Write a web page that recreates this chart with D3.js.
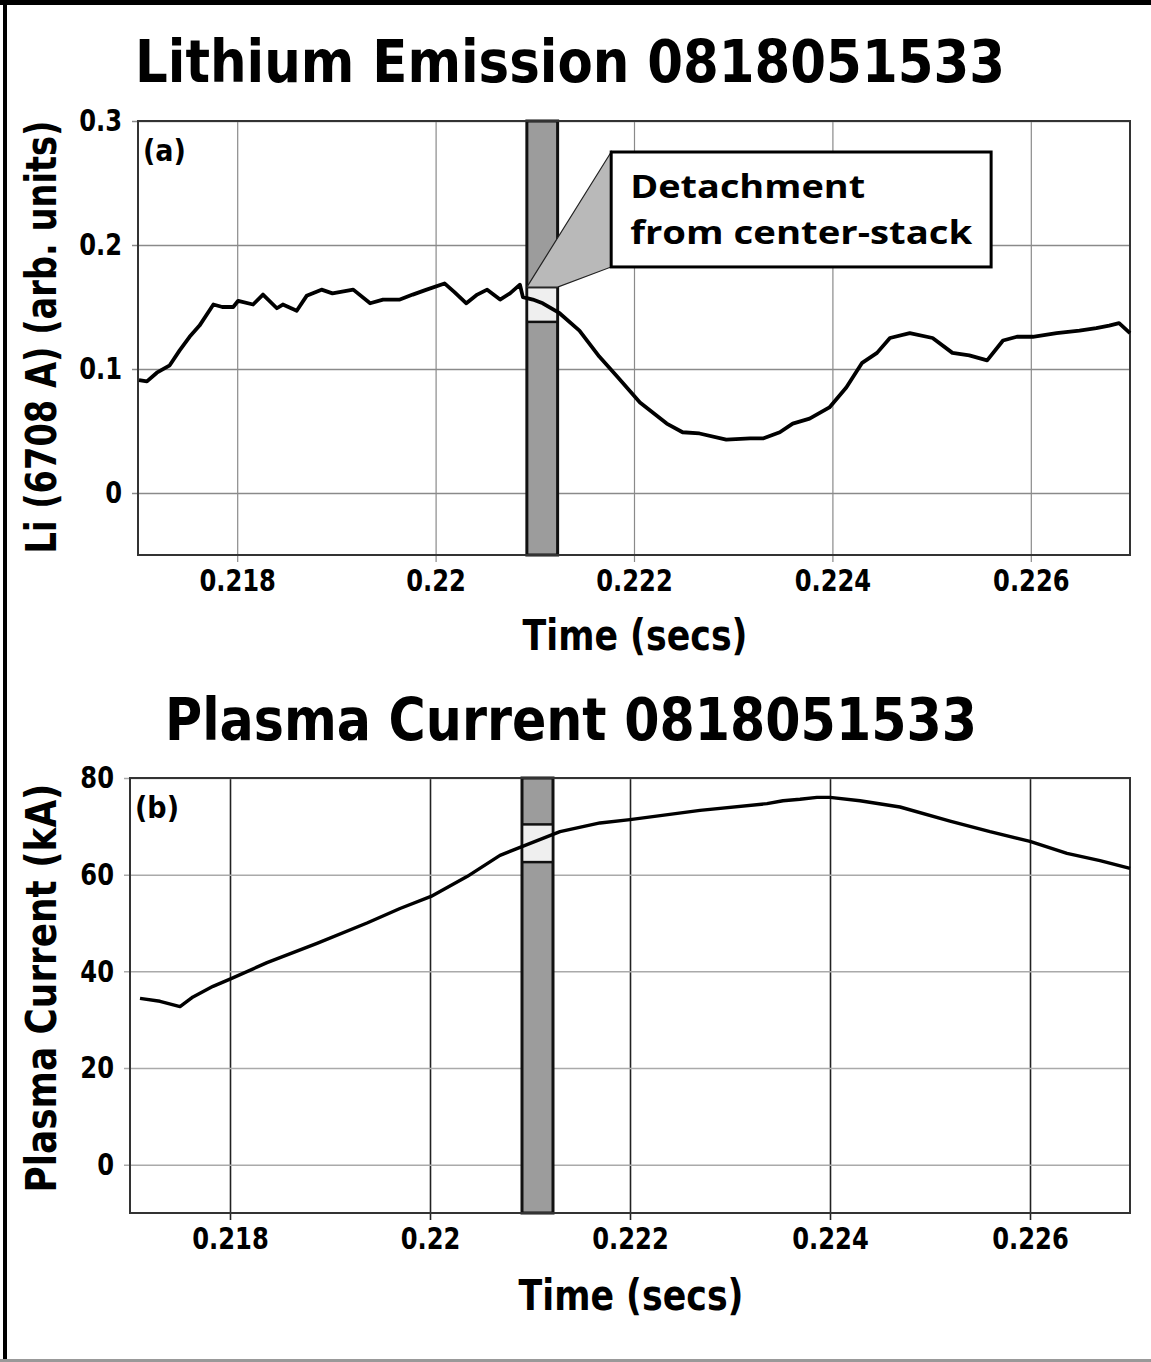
<!DOCTYPE html>
<html>
<head>
<meta charset="utf-8">
<script src="https://cdn.jsdelivr.net/npm/d3@7"></script>
<style>
  body { margin: 0; background: #fff; }
  text { font-family: "DejaVu Sans", sans-serif; font-weight: bold; fill: #000; }
</style>
</head>
<body>
<div id="graph"></div>
<script>
const width = 1151;
const height = 1362;

// (a) Li 6708 A emission
const liTime = [0.21701, 0.21709, 0.21719, 0.21732, 0.21742, 0.21752, 0.21762, 0.21776, 0.21785, 0.21796,
  0.21801, 0.21816, 0.21826, 0.2184, 0.21846, 0.2186, 0.2187, 0.21885, 0.21896, 0.21917,
  0.21934, 0.21947, 0.21964, 0.21977, 0.21991, 0.22009, 0.22019, 0.22031, 0.22042, 0.22052,
  0.22065, 0.22075, 0.22085, 0.22088, 0.22098, 0.22108, 0.22125, 0.22145, 0.22165, 0.22183,
  0.22206, 0.22233, 0.22249, 0.22266, 0.22293, 0.22317, 0.2233, 0.22347, 0.2236, 0.22377,
  0.22397, 0.22414, 0.2243, 0.22445, 0.22458, 0.22478, 0.22501, 0.22521, 0.22538, 0.22556,
  0.22572, 0.22586, 0.22602, 0.22626, 0.22649, 0.22666, 0.22679, 0.22689, 0.227];
const liValue = [0.091, 0.090, 0.097, 0.103, 0.115, 0.126, 0.135, 0.152, 0.150, 0.150,
  0.155, 0.152, 0.160, 0.149, 0.152, 0.147, 0.159, 0.164, 0.161, 0.164,
  0.153, 0.156, 0.156, 0.160, 0.164, 0.169, 0.162, 0.153, 0.160, 0.164,
  0.156, 0.161, 0.168, 0.158, 0.156, 0.153, 0.145, 0.131, 0.110, 0.094,
  0.073, 0.056, 0.049, 0.048, 0.043, 0.044, 0.044, 0.049, 0.056, 0.060,
  0.069, 0.085, 0.105, 0.113, 0.125, 0.129, 0.125, 0.113, 0.111, 0.107,
  0.123, 0.126, 0.126, 0.129, 0.131, 0.133, 0.135, 0.137, 0.129];

// (b) plasma current in kA
const ipTime = [0.2171, 0.2173, 0.2175, 0.21763, 0.21783, 0.218, 0.21837, 0.21887, 0.21937, 0.2197,
  0.22001, 0.22037, 0.2207, 0.22097, 0.2213, 0.2217, 0.222, 0.2227, 0.22337, 0.22353,
  0.2237, 0.22387, 0.224, 0.2243, 0.2247, 0.2252, 0.2256, 0.226, 0.22637, 0.2267, 0.227];
const ipValue = [34.4, 33.8, 32.7, 34.7, 36.9, 38.4, 41.8, 45.8, 50.0, 53.0,
  55.5, 59.6, 64.0, 66.2, 68.9, 70.7, 71.4, 73.3, 74.7, 75.3,
  75.6, 76.0, 76.0, 75.3, 74.0, 71.1, 68.9, 66.9, 64.4, 62.9, 61.3];

const timeTicks = [0.218, 0.22, 0.222, 0.224, 0.226];
const timeTickLabels = ["0.218", "0.22", "0.222", "0.224", "0.226"];
const liTicks = [0, 0.1, 0.2, 0.3];
const liTickLabels = ["0", "0.1", "0.2", "0.3"];
const ipTicks = [0, 20, 40, 60, 80];
const ipTickLabels = ["0", "20", "40", "60", "80"];

// detachment window and its highlighted band
const windowTime = [0.22092, 0.22123];
const liBand = [0.138, 0.166];
const ipBand = [62.6, 70.4];

// callout box, in data units of panel (a)
const calloutTime = [0.22177, 0.2256];
const calloutValue = [0.1823, 0.275];
const calloutLines = ["Detachment", "from center-stack"];

const svg = d3.select("#graph")
  .append("svg")
  .attr("width", width)
  .attr("height", height)
  .style("background", "#fff");

// page frame
svg.append("rect").attr("x", 0).attr("y", 0).attr("width", width).attr("height", 5).attr("fill", "#000");
svg.append("rect").attr("x", 3).attr("y", 0).attr("width", 4).attr("height", height).attr("fill", "#000");
svg.append("rect").attr("x", 0).attr("y", height - 3).attr("width", width).attr("height", 3).attr("fill", "#999");

// squeeze a text horizontally, the source uses a narrow bold face
function narrow(sel, k) {
  sel.each(function () {
    const len = this.getComputedTextLength();
    d3.select(this)
      .attr("textLength", len * k)
      .attr("lengthAdjust", "spacingAndGlyphs");
  });
}

function drawPanel(p) {
  const x = d3.scaleLinear().domain([0.217, 0.227]).range([p.left, p.right]);
  const y = d3.scaleLinear().domain(p.yDomain).range([p.bottom, p.top]);
  const h = p.bottom - p.top;
  const w = p.right - p.left;
  const g = svg.append("g");

  // grid
  g.append("g")
    .attr("transform", `translate(0, ${p.bottom})`)
    .call(d3.axisBottom(x).tickValues(timeTicks).tickSize(h + 7).tickFormat(""))
    .call(s => s.select(".domain").remove())
    .selectAll("line")
    .attr("transform", `translate(0, ${-h})`)
    .attr("stroke", p.vGrid)
    .attr("stroke-width", p.vGridWidth);
  g.append("g")
    .attr("transform", `translate(${p.left}, 0)`)
    .call(d3.axisLeft(y).tickValues(p.yTicks).tickSize(-(w + 6)).tickFormat(""))
    .call(s => s.select(".domain").remove())
    .selectAll("line")
    .attr("transform", "translate(-6, 0)")
    .attr("stroke", p.hGrid)
    .attr("stroke-width", 1.5);

  // tick labels
  const xa = g.append("g")
    .attr("transform", `translate(0, ${p.bottom})`)
    .call(d3.axisBottom(x).tickValues(timeTicks).tickSize(0).tickPadding(14)
      .tickFormat((d, i) => timeTickLabels[i]));
  const ya = g.append("g")
    .attr("transform", `translate(${p.left}, 0)`)
    .call(d3.axisLeft(y).tickValues(p.yTicks).tickSize(0).tickPadding(16)
      .tickFormat((d, i) => p.yTickLabels[i]));
  [xa, ya].forEach(a => {
    a.attr("font-family", null).attr("font-size", null);
    a.select(".domain").remove();
    a.selectAll("text").style("font-size", "31px").call(narrow, 0.78);
  });

  // shaded window
  g.append("rect")
    .attr("x", x(windowTime[0]))
    .attr("y", p.top)
    .attr("width", x(windowTime[1]) - x(windowTime[0]))
    .attr("height", h)
    .attr("fill", "#9c9c9c")
    .attr("stroke", "#111")
    .attr("stroke-width", 3);
  g.append("rect")
    .attr("x", x(windowTime[0]) + 1.5)
    .attr("y", y(p.band[1]))
    .attr("width", x(windowTime[1]) - x(windowTime[0]) - 3)
    .attr("height", y(p.band[0]) - y(p.band[1]))
    .attr("fill", "#efefef");
  p.band.forEach(v => {
    g.append("line")
      .attr("x1", x(windowTime[0])).attr("x2", x(windowTime[1]))
      .attr("y1", y(v)).attr("y2", y(v))
      .attr("stroke", "#111").attr("stroke-width", 2.5);
  });

  // plot frame
  g.append("rect")
    .attr("x", p.left).attr("y", p.top)
    .attr("width", w).attr("height", h)
    .attr("fill", "none")
    .attr("stroke", "#333")
    .attr("stroke-width", 2);

  // trace
  const line = d3.line()
    .x(d => x(d[0]))
    .y(d => y(d[1]));
  g.append("path")
    .datum(d3.zip(p.time, p.value))
    .attr("fill", "none")
    .attr("stroke", "#000")
    .attr("stroke-width", p.lineWidth)
    .attr("stroke-linejoin", "round")
    .attr("d", line);

  // panel letter
  g.append("text")
    .attr("x", p.left + 5)
    .attr("y", p.top + 40)
    .style("font-size", "30px")
    .text(p.letter)
    .call(narrow, 0.9);

  // titles
  g.append("text")
    .attr("x", p.titleX)
    .attr("y", p.titleY)
    .attr("text-anchor", "middle")
    .attr("textLength", p.titleLength)
    .attr("lengthAdjust", "spacingAndGlyphs")
    .style("font-size", "58px")
    .text(p.title);
  g.append("text")
    .attr("x", p.xLabelX)
    .attr("y", p.xLabelY)
    .attr("text-anchor", "middle")
    .attr("textLength", 225)
    .attr("lengthAdjust", "spacingAndGlyphs")
    .style("font-size", "43px")
    .text("Time (secs)");
  g.append("text")
    .attr("transform", `translate(56, ${p.yLabelY}) rotate(-90)`)
    .attr("text-anchor", "middle")
    .attr("textLength", p.yLabelLength)
    .attr("lengthAdjust", "spacingAndGlyphs")
    .style("font-size", "42px")
    .text(p.yLabel);

  return { x, y, g };
}

const panelA = drawPanel({
  left: 138, right: 1130, top: 121, bottom: 555,
  yDomain: [-0.05, 0.3], yTicks: liTicks, yTickLabels: liTickLabels,
  vGrid: "#8a8a8a", vGridWidth: 1.2, hGrid: "#8a8a8a",
  band: liBand, time: liTime, value: liValue, lineWidth: 3.8,
  letter: "(a)",
  title: "Lithium Emission 0818051533", titleX: 570, titleY: 82, titleLength: 870,
  xLabelX: 635, xLabelY: 650,
  yLabel: "Li (6708 A) (arb. units)", yLabelY: 337, yLabelLength: 433
});

drawPanel({
  left: 130, right: 1130, top: 778, bottom: 1213,
  yDomain: [-10, 80], yTicks: ipTicks, yTickLabels: ipTickLabels,
  vGrid: "#222", vGridWidth: 1.6, hGrid: "#aaa",
  band: ipBand, time: ipTime, value: ipValue, lineWidth: 3.4,
  letter: "(b)",
  title: "Plasma Current 0818051533", titleX: 571, titleY: 740, titleLength: 812,
  xLabelX: 631, xLabelY: 1310,
  yLabel: "Plasma Current (kA)", yLabelY: 988, yLabelLength: 409
});

// callout pointing at the detachment window
const cx0 = panelA.x(calloutTime[0]);
const cx1 = panelA.x(calloutTime[1]);
const cyTop = panelA.y(calloutValue[1]);
const cyBottom = panelA.y(calloutValue[0]);
panelA.g.append("path")
  .attr("d", d3.line()([
    [panelA.x(windowTime[0]), panelA.y(liBand[1])],
    [cx0, cyTop],
    [cx0, cyBottom],
    [panelA.x(windowTime[1]), panelA.y(liBand[1])]
  ]) + "Z")
  .attr("fill", "#b9b9b9")
  .attr("stroke", "#222")
  .attr("stroke-width", 1.2);
panelA.g.append("rect")
  .attr("x", cx0).attr("y", cyTop)
  .attr("width", cx1 - cx0).attr("height", cyBottom - cyTop)
  .attr("fill", "#fff")
  .attr("stroke", "#000")
  .attr("stroke-width", 3);
// one text block, two lines
panelA.g.append("text")
  .style("font-family", "'Open Sans', sans-serif")
  .style("font-weight", 700)
  .style("font-size", "33px")
  .selectAll("tspan")
  .data(calloutLines)
  .join("tspan")
  .attr("x", cx0 + 19)
  .attr("y", (d, i) => cyTop + 46 + i * 46)
  .attr("textLength", (d, i) => i === 0 ? 235 : 342)
  .attr("lengthAdjust", "spacingAndGlyphs")
  .text(d => d);
</script>
</body>
</html>
